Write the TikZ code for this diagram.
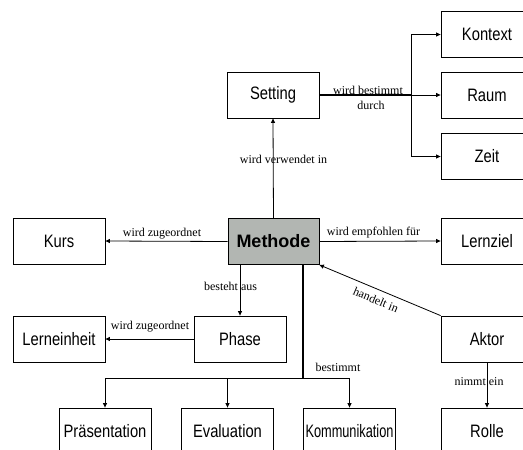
\documentclass[tikz,border=0pt]{standalone}
\usepackage{fontspec}
\usetikzlibrary{arrows.meta}
\setmainfont{Liberation Serif}
\newfontfamily\boxfont[FakeStretch=0.82]{Liberation Sans}
\newfontfamily\headfont{Liberation Sans}
\definecolor{methgray}{RGB}{178,182,178}
\tikzset{
  box/.style={draw, line width=0.8pt, minimum width=92pt, minimum height=46pt,
    inner sep=0pt, font=\boxfont\fontsize{18}{20}\selectfont},
  headbox/.style={box, minimum width=91pt, fill=methgray,
    font=\headfont\bfseries\fontsize{18}{20}\selectfont},
  lbl/.style={font=\fontsize{12}{13}\selectfont, inner sep=0pt},
  link/.style={line width=0.8pt},
  heavy/.style={line width=2pt},
  arr/.style={link, -{Triangle[length=4.5pt,width=4pt]}}
}
\begin{document}
\begin{tikzpicture}[x=1pt,y=-1pt]
\useasboundingbox (0,0) rectangle (523,450);
\clip (0,0) rectangle (523,450);

% concept boxes
\node[box] (setting) at (273,95) {Setting};
\node[box] (kontext) at (487,34.5) {Kontext};
\node[box] (raum) at (487,95) {Raum};
\node[box] (zeit) at (487,156.5) {Zeit};
\node[box] (kurs) at (59,241) {Kurs};
\node[headbox] (methode) at (273.5,241.5) {Methode};
\node[box] (lernziel) at (487,241) {Lernziel};
\node[box] (lerneinheit) at (59,339) {Lerneinheit};
\node[box] (phase) at (240,339) {Phase};
\node[box] (aktor) at (487,339) {Aktor};
\node[box] (praes) at (105,431) {Präsentation};
\node[box] (eval) at (227.5,431) {Evaluation};
\node[box] (komm) at (349.5,431) {\scalebox{0.865}[1]{Kommunikation}};
\node[box] (rolle) at (487,431) {Rolle};

% Setting is determined by context, space and time
\coordinate (sfork) at (411,95);
\draw[heavy] (setting.east) -- (sfork);
\draw[arr] (sfork) -- (raum.west);
\draw[link] (sfork |- kontext.west) -- (sfork |- zeit.west);
\draw[arr] (sfork |- kontext.west) -- (kontext.west);
\draw[arr] (sfork |- zeit.west) -- (zeit.west);
\node[lbl] (lbest) at (368,90) {wird bestimmt};
\node[lbl] (ldurch) at (371,105) {durch};

% relations of the method
\draw[arr] (methode.north) -- (setting.south);
\node[lbl] (lverw) at (283.5,159) {wird verwendet in};
\draw[arr] (methode.west) -- (kurs.east);
\node[lbl] (lzu1) at (162,234) {wird zugeordnet};
\draw[arr] (methode.east) -- (lernziel.west);
\node[lbl] (lempf) at (373.5,233) {wird empfohlen für};
\draw[arr] (phase.north |- methode.south) -- (phase.north);
\node[lbl] (lbest2) at (230.5,286) {besteht aus};
\draw[arr] (aktor.north west) -- (methode.south east);
\node[lbl, rotate=-23] (lhand) at (376,300) {handelt in};
\draw[arr] (phase.west) -- (lerneinheit.east);
\node[lbl] (lzu2) at (150,327) {wird zugeordnet};
\draw[arr] (aktor.south) -- (rolle.north);
\node[lbl] (lnimmt) at (479,382) {nimmt ein};

% the method determines the presentation, evaluation and communication
\coordinate (mfork) at (303,378);
\draw[heavy] (mfork |- methode.south) -- (mfork);
\draw[link] (praes.north |- mfork) -- (komm.north |- mfork);
\draw[arr] (praes.north |- mfork) -- (praes.north);
\draw[arr] (eval.north |- mfork) -- (eval.north);
\draw[arr] (komm.north |- mfork) -- (komm.north);
\node[lbl] (lbest3) at (338,367) {bestimmt};
\end{tikzpicture}
\end{document}
